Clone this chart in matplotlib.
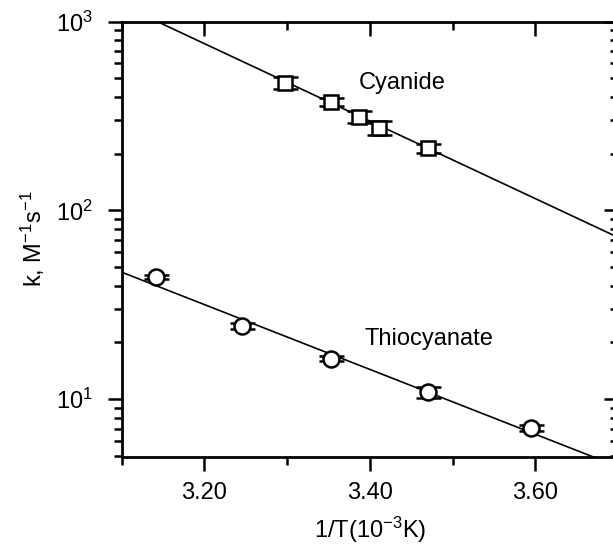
import matplotlib
matplotlib.use("Agg")
import matplotlib.pyplot as plt
from matplotlib.ticker import LogLocator, FixedLocator
import numpy as np

plt.rcParams["font.family"] = ["Liberation Sans", "DejaVu Sans"]
plt.rcParams["mathtext.fontset"] = "custom"
plt.rcParams["mathtext.rm"] = "Liberation Sans"
plt.rcParams["mathtext.it"] = "Liberation Sans"
plt.rcParams["mathtext.default"] = "regular"

# Cyanide data
cn_x = [3.297, 3.353, 3.387, 3.411, 3.470]
cn_k = [474, 375, 313, 274, 213]
cn_err = [36, 19, 22, 24, 12]

# Thiocyanate data
scn_x = [3.142, 3.245, 3.353, 3.470, 3.595]
scn_k = [44.4, 24.5, 16.4, 10.9, 7.05]
scn_err = [1.3, 0.8, 0.5, 0.75, 0.25]

# fit lines (end points)
cn_fit_x = [3.10, 3.70]
cn_fit_k = [1225, 72]
scn_fit_x = [3.10, 3.70]
scn_fit_k = [47.1, 4.40]

fs = 17

fig = plt.figure(figsize=(6.13, 5.45), dpi=100)
ax = fig.add_axes([0.1985, 0.1615, 0.8097, 0.799])

ax.plot(cn_fit_x, cn_fit_k, color="black", lw=1.2, zorder=2)
ax.plot(scn_fit_x, scn_fit_k, color="black", lw=1.2, zorder=2)

ax.errorbar(cn_x, cn_k, yerr=cn_err, fmt="s", ms=10, mfc="white", mec="black",
            mew=1.8, ecolor="black", elinewidth=1.5, capsize=9, capthick=2, zorder=3)
ax.errorbar(scn_x, scn_k, yerr=scn_err, fmt="o", ms=11.5, mfc="white", mec="black",
            mew=1.8, ecolor="black", elinewidth=1.5, capsize=9, capthick=2, zorder=3)

ax.set_yscale("log")
ax.set_xlim(3.10, 3.70)
ax.set_ylim(4.95, 1000)

ax.text(3.386, 473, "Cyanide", fontsize=fs, va="center", ha="left")
ax.text(3.394, 20.8, "Thiocyanate", fontsize=fs, va="center", ha="left")

ax.xaxis.set_major_locator(FixedLocator([3.2, 3.4, 3.6]))
ax.xaxis.set_minor_locator(FixedLocator([3.1, 3.3, 3.5, 3.7]))
ax.set_xticklabels(["3.20", "3.40", "3.60"])
ax.yaxis.set_major_locator(LogLocator(base=10, numticks=10))
ax.yaxis.set_minor_locator(LogLocator(base=10, subs=np.arange(2, 10), numticks=10))

ax.tick_params(axis="both", which="major", direction="out", length=10, width=1.8,
               labelsize=fs)
ax.tick_params(axis="x", which="major", pad=8)
ax.tick_params(axis="y", which="major", pad=11)
ax.tick_params(axis="both", which="minor", direction="out", length=6, width=1.8)
ax.tick_params(axis="both", which="both", top=True, right=True)
# top and right ticks point inward
for t in ax.xaxis.get_major_ticks() + ax.xaxis.get_minor_ticks():
    t.tick2line.set_marker(matplotlib.lines.TICKDOWN)
for t in ax.yaxis.get_major_ticks() + ax.yaxis.get_minor_ticks():
    t.tick2line.set_marker(matplotlib.lines.TICKLEFT)

for s in ax.spines.values():
    s.set_linewidth(2)

ax.set_xlabel("1/T(10$^{-3}$K)", fontsize=fs, labelpad=8)
ax.set_ylabel("k, M$^{-1}$s$^{-1}$", fontsize=fs, labelpad=6)

plt.savefig("out.png", dpi=100)
